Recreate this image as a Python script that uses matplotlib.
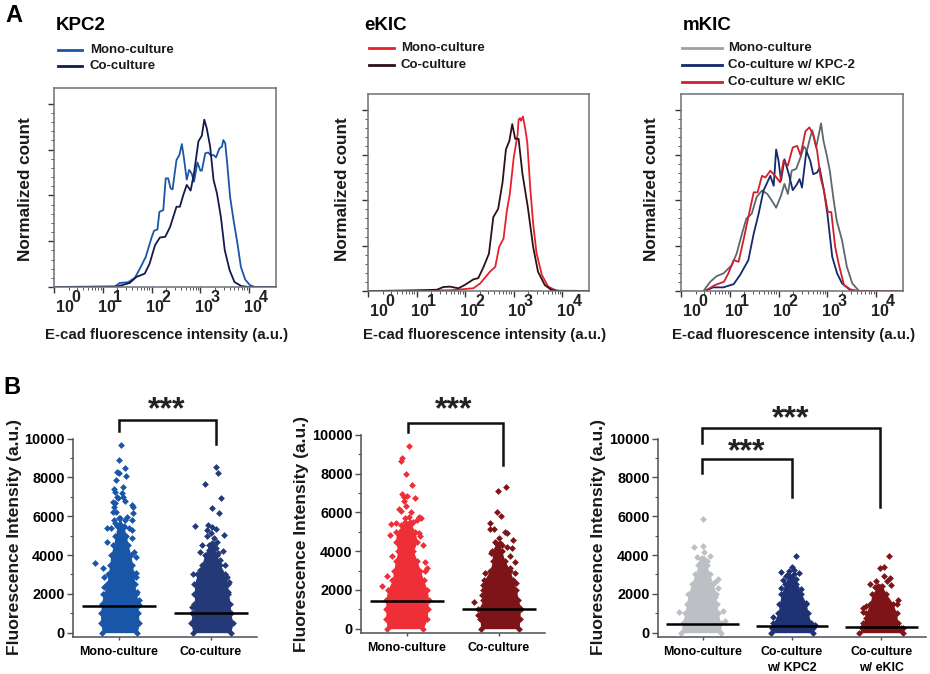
import matplotlib
matplotlib.use('Agg')
import matplotlib.pyplot as plt
from matplotlib.lines import Line2D
from matplotlib.ticker import FixedLocator, NullFormatter
import numpy as np

plt.rcParams['font.family'] = ['Liberation Sans', 'DejaVu Sans']
plt.rcParams['font.weight'] = 'bold'

W, H = 930, 674

# ---- panel A, histogram curves: log10 intensity and normalized count (0-100)
kpc_mono_x = [0, 0.73, 1.25, 1.35, 1.52, 1.66, 1.76, 1.88, 2.0, 2.05, 2.12, 2.16, 2.24, 2.29, 2.34, 2.39, 2.43,
              2.51, 2.57, 2.62, 2.66, 2.72, 2.77, 2.82, 2.87, 2.94, 3.0, 3.03, 3.1, 3.16, 3.21, 3.27, 3.32, 3.39,
              3.44, 3.47, 3.51, 3.55, 3.61, 3.68, 3.76, 3.83, 3.92, 4.02, 4.12, 4.55]
kpc_mono_y = [0, 0.2, 0.4, 2.2, 2.6, 5.1, 10, 16.4, 27, 30.7, 31.4, 41, 42, 59.3, 59.3, 53.8, 53.3, 69.3, 72.1,
              78, 71, 58.6, 63.9, 62, 57.5, 68, 63.5, 63.5, 73, 73.4, 72, 72, 70.7, 75.6, 76.5, 80.2, 78.4, 67.4,
              49, 36.5, 23.7, 11, 4, 0.9, 0, 0]
kpc_co_x = [0, 1.25, 1.38, 1.55, 1.69, 1.86, 1.96, 2.07, 2.17, 2.28, 2.38, 2.51, 2.58, 2.65, 2.72, 2.8, 2.87,
            2.96, 3.03, 3.08, 3.13, 3.2, 3.27, 3.34, 3.42, 3.5, 3.6, 3.7, 3.84, 4.0, 4.55]
kpc_co_y = [0, 0, 0.9, 2.2, 5.5, 7.3, 12.8, 22.8, 27, 27.4, 32.8, 43.8, 43.8, 50.2, 55.7, 52.6, 62.1, 79.5, 82.6,
            91.3, 86.7, 76.7, 58.4, 51.1, 38.3, 20.1, 9.1, 2.7, 0.5, 0, 0]

ekic_mono_x = [0, 1.69, 2.17, 2.31, 2.51, 2.62, 2.7, 2.79, 2.86, 2.92, 3.0, 3.08, 3.1, 3.13, 3.15, 3.19, 3.24,
               3.28, 3.34, 3.4, 3.47, 3.58, 3.71, 3.88, 4.55]
ekic_mono_y = [0, 0.4, 1.5, 4.2, 10.6, 13.3, 24.3, 28.9, 44.4, 53.5, 73.5, 86.3, 94.4, 95.3, 93.9, 96.2, 89, 81.7,
               57, 37.2, 20.8, 8.8, 2.4, 0.2, 0]
ekic_co_x = [0, 0.77, 1.08, 1.42, 1.55, 1.69, 1.86, 1.99, 2.17, 2.27, 2.38, 2.49, 2.58, 2.68, 2.77, 2.84, 2.91,
             2.97, 3.03, 3.1, 3.18, 3.29, 3.4, 3.5, 3.64, 3.78, 3.95, 4.55]
ekic_co_y = [0, 0.2, 0.4, 0.7, 2.2, 2.4, 1.5, 3.3, 6.4, 7.1, 13.3, 20.6, 40.7, 45.3, 59.9, 78.1, 82.7, 92, 83.9,
             83.9, 64.6, 46.3, 24.3, 10.6, 3.3, 0.5, 0, 0]

mkic_mono_x = [0.46, 0.6, 0.73, 0.87, 1.04, 1.14, 1.25, 1.34, 1.45, 1.55, 1.66, 1.77, 1.88, 1.95, 2.05, 2.12, 2.19,
               2.27, 2.36, 2.45, 2.52, 2.58, 2.63, 2.69, 2.77, 2.87, 2.92, 2.99, 3.05, 3.12, 3.19, 3.3, 3.4, 3.51,
               3.65, 4.55]
mkic_mono_y = [0, 5.1, 8.2, 9.7, 14.2, 20.6, 31.6, 39.9, 42.6, 51.8, 55.4, 53.5, 49, 45.9, 52.6, 59, 53.5, 66.4,
               67.3, 73.7, 79.7, 77.3, 82.8, 88.6, 79.1, 92.4, 82.8, 74.5, 66.3, 51.8, 39, 28, 13.3, 4.2, 0, 0]
mkic_co1_x = [0.49, 0.66, 0.87, 1.08, 1.21, 1.38, 1.49, 1.59, 1.69, 1.83, 1.9, 1.95, 2.0, 2.05, 2.12, 2.21, 2.29,
              2.38, 2.43, 2.48, 2.57, 2.65, 2.71, 2.79, 2.84, 2.93, 3.0, 3.1, 3.2, 3.3, 3.47, 3.62, 4.55]
mkic_co1_y = [0, 2, 2, 3.8, 8.8, 17, 31.6, 42.5, 55.3, 63.5, 58, 78, 71.7, 60.8, 72.6, 64.4, 55.6, 59, 61.7, 57,
              77.2, 71.7, 64.4, 65.3, 68, 55.3, 42.5, 18.8, 9.7, 4.2, 0.5, 0, 0]
mkic_co2_x = [0.49, 0.7, 0.88, 0.97, 1.08, 1.18, 1.28, 1.38, 1.49, 1.57, 1.66, 1.73, 1.83, 1.93, 2.03, 2.1, 2.19,
              2.29, 2.38, 2.45, 2.55, 2.63, 2.71, 2.79, 2.86, 2.93, 3.01, 3.08, 3.16, 3.23, 3.34, 3.47, 3.62, 4.55]
mkic_co2_y = [0, 3.3, 5.1, 9.7, 17, 16.1, 28, 40.7, 54.4, 54.4, 63.5, 62.6, 66.3, 63.5, 59.9, 71.8, 69.1, 79.1,
              80, 74.8, 88, 90.2, 86.4, 77.3, 62.6, 55.4, 43.5, 43.5, 24.3, 15.2, 3.3, 0.9, 0, 0]

# ---- panel B, swarm outlines: value, left and right half width in category units
b1_mono_levels = [0, 500, 1000, 1500, 2000, 2500, 3000, 3500, 4000, 4500, 5000, 5500, 5900]
b1_mono_left = [-.18, -.2, -.2, -.19, -.17, -.13, -.12, -.1, -.09, -.06, -.04, -.02, 0]
b1_mono_right = [.2, .22, .21, .21, .19, .17, .165, .145, .13, .1, .08, .05, .01]
b1_co_levels = [0, 500, 1000, 1500, 2000, 2500, 3000, 3500, 4000, 4500]
b1_co_left = [-.195, -.22, -.205, -.18, -.18, -.18, -.15, -.1, -.07, -.025]
b1_co_right = [.215, .24, .215, .21, .19, .18, .155, .1, .065, .03]

b2_mono_levels = [0, 500, 1000, 1500, 2000, 2500, 3000, 3500, 4000, 4500, 5000, 5500]
b2_mono_left = [-.215, -.23, -.23, -.23, -.21, -.16, -.145, -.125, -.1, -.125, -.115, -.02]
b2_mono_right = [.175, .22, .225, .235, .22, .18, .145, .11, .07, .11, .09, .03]
b2_co_levels = [0, 500, 1000, 1500, 2000, 2500, 3000, 3500, 4000, 4400]
b2_co_left = [-.2, -.205, -.225, -.17, -.17, -.16, -.1, -.07, -.08, -.03]
b2_co_right = [.22, .225, .235, .21, .19, .155, .12, .065, .03, .01]

b3_mono_levels = [0, 500, 1000, 1500, 2000, 2500, 3000, 3500, 3800]
b3_mono_left = [-.245, -.225, -.2, -.18, -.16, -.125, -.085, -.05, -.02]
b3_mono_right = [.21, .2, .175, .155, .15, .12, .08, .045, .02]
b3_kpc_levels = [0, 250, 500, 1000, 1500, 2000, 2500, 3000]
b3_kpc_left = [-.23, -.22, -.21, -.155, -.14, -.12, -.08, -.04]
b3_kpc_right = [.235, .24, .215, .18, .16, .105, .05, .02]
b3_ekic_levels = [0, 250, 500, 1000, 1500, 2000, 2400]
b3_ekic_left = [-.25, -.22, -.2, -.17, -.13, -.1, -.04]
b3_ekic_right = [.24, .22, .185, .17, .13, .055, .01]

# ---- panel B, single points outside the swarm body: offset from category, value
b1_mono_dx = [.02, 0, .06, -.02, 0, .08, -.03, .04, -.05, -.04, .03, -.02, -.06, -.04, .06, .14, .15, -.01, .04,
              -.05, -.07, -.03, .15, .14, .09, .07, -.05, -.13, -.09, .11, .14, .14, -.13, .16, .19, -.26, -.17,
              -.16, .18, .19, .2, .22, -.16, .22, -.04, 0, .05]
b1_mono_val = [9650, 8880, 8470, 8300, 8210, 8070, 7850, 7490, 7420, 7270, 7180, 7010, 6750, 6670, 6800, 6580,
               6460, 6920, 7010, 6490, 6240, 6240, 6180, 5810, 5980, 5810, 5810, 5380, 5380, 5380, 5290, 4860,
               4690, 4170, 3920, 3610, 3320, 2890, 3060, 2890, 2110, 1680, 2340, 1430, 5640, 5550, 5460]
b1_co_dx = [.05, .08, -.07, .11, .01, .09, -.17, -.03, .01, .05, -.04, 0, .14, -.04, .03, .065, -.1, .01, .05,
            .13, -.115, -.025, .08, .1, .155, -.115, -.195, .17, .2, .19, -.205]
b1_co_val = [8520, 8250, 7660, 6920, 6410, 6180, 5510, 5550, 5460, 5340, 5290, 5120, 5020, 5000, 4860, 4690, 4520,
             4600, 4350, 4210, 4170, 4260, 4090, 3750, 3490, 3230, 3020, 2890, 2600, 2110, 1340]
b2_mono_dx = [.02, -.05, -.07, -.01, .055, -.05, -.03, 0, .09, -.035, -.01, -.09, -.065, .045, .125, .155, .02,
              -.175, -.115, .11, .07, -.07, -.18, .125, .145, .175, -.16, .2, .215, .2, -.215, -.27, -.02, .035]
b2_mono_val = [9420, 8820, 8680, 7990, 7440, 6960, 6790, 6860, 6740, 6610, 6340, 6170, 6100, 6050, 5790, 5700, 5760,
               5380, 5480, 5620, 5530, 5360, 4850, 4930, 4760, 4330, 3730, 3440, 3130, 2960, 2700, 2220, 5700, 5360]
b2_co_dx = [.075, -.01, -.02, .025, -.1, .065, .085, -.1, -.055, 0, .15, -.04, .03, .085, .14, -.01, -.09, .12,
            .175, .12, .175, -.15, -.17, .19, -.19, -.275, -.225, .21]
b2_co_val = [7320, 7110, 6010, 5820, 5480, 4980, 4930, 5150, 5150, 4670, 4570, 4500, 4330, 4240, 4160, 4070, 3900,
             3730, 3420, 3130, 2870, 2870, 2270, 2350, 1750, 1390, 720, 1150]
b3_mono_dx = [0, 0, -.1, .01, .08, -.06, -.01, .045, -.03, .175, .14, .175, -.26, .23, .25, .14]
b3_mono_val = [5860, 4470, 4400, 4140, 3970, 3880, 3830, 3710, 3610, 2770, 2630, 2280, 1050, 1130, 620, 1860]
b3_kpc_dx = [.05, -.12, 0, -.03, .02, .08, .05, -.065, -.1, -.025, -.12, .05, .105, .01, .16, -.21, .255, .215]
b3_kpc_val = [3970, 3130, 3370, 3200, 3230, 3060, 2750, 2920, 2710, 2680, 2280, 2370, 2230, 2540, 1510, 820, 400, 310]
b3_ekic_dx = [.085, .03, -.01, .025, .095, .065, -.055, -.13, .105, -.02, -.075, -.17, -.2, -.205, .17, -.17,
              -.22, .24, .185]
b3_ekic_val = [3950, 3400, 3320, 2920, 2830, 2680, 2680, 2490, 2440, 2370, 2370, 1370, 1250, 1080, 1460, 740, 310,
               220, 1680]

# medians
b1_medians = [1390, 1030]
b2_medians = [1426, 1013]
b3_medians = [447, 344, 310]

exponents = ['0', '1', '2', '3', '4']
y_ticks_b = [0, 2000, 4000, 6000, 8000, 10000]

BLUE = '#1a56a8'
NAVY = '#141a4e'
RED = '#e8202c'
DOT = 12


def px_axes(left, top, right, bottom):
    return fig.add_axes([left / W, 1 - bottom / H, (right - left) / W, (bottom - top) / H])


def fig_text(x, y, s, **kw):
    kw.setdefault('va', 'center')
    kw.setdefault('ha', 'left')
    fig.text(x / W, 1 - y / H, s, **kw)


def legend_row(x0, x1, xt, y, color, label):
    fig.add_artist(Line2D([x0 / W, x1 / W], [1 - y / H, 1 - y / H], color=color, lw=2))
    fig_text(xt - 1, y, label, fontsize=9.5, color='#1a1a1a')


def hist_panel(box, curves):
    ax = px_axes(*box)
    for xs, ys, color in curves:
        ax.plot(10 ** np.array(xs), ys, color=color, lw=1.3)
    ax.set_xscale('log')
    ax.set_xlim(1, 10 ** 4.55)
    ax.set_ylim(0, 108.6)
    ax.xaxis.set_major_locator(FixedLocator([1, 10, 100, 1000, 10000]))
    minor = [m * 10 ** k for k in range(4) for m in range(2, 10)]
    ax.xaxis.set_minor_locator(FixedLocator(minor))
    ax.xaxis.set_major_formatter(NullFormatter())
    ax.xaxis.set_minor_formatter(NullFormatter())
    ax.set_yticks([0, 25, 50, 75, 100])
    ax.set_yticks(np.arange(0, 105, 5), minor=True)
    ax.set_yticklabels([])
    ax.tick_params(axis='both', which='major', length=4, width=1, color='#333333')
    ax.tick_params(axis='both', which='minor', length=2, width=0.7, color='#555555')
    for s in ax.spines.values():
        s.set_color('#6a7278')
        s.set_linewidth(1.1)
    for i, e in enumerate(exponents):
        dx10 = 10.7 if i == 0 else 3.7
        dxe = 22.3 if i == 0 else 14.5
        ax.annotate('10', (10 ** i, 0), xycoords=('data', 'axes fraction'), xytext=(dx10, -21),
                    textcoords='offset pixels', ha='center', va='center', fontsize=11.5, color='#222222')
        ax.annotate(e, (10 ** i, 0), xycoords=('data', 'axes fraction'), xytext=(dxe, -10),
                    textcoords='offset pixels', ha='center', va='center', fontsize=11.5, color='#222222')
    return ax


def swarm(ax, pos, levels, left, right, dx, val, color):
    lv = np.array(levels)
    xl = pos + np.array(left)
    xr = pos + np.array(right)
    ax.fill_betweenx(lv, xl, xr, color=color, lw=0, zorder=2, clip_on=False)
    ax.scatter(xl, lv, marker='D', s=DOT, color=color, lw=0, zorder=2, clip_on=False)
    ax.scatter(xr, lv, marker='D', s=DOT, color=color, lw=0, zorder=2, clip_on=False)
    ax.scatter(pos + np.array(dx), val, marker='D', s=DOT, color=color, lw=0, zorder=3, clip_on=False)


def bracket(ax, x0, x1, top, end0, end1, star_x, star_y):
    ax.plot([x0, x0, x1, x1], [end0, top, top, end1], color='#111111', lw=1.8, clip_on=False,
            solid_joinstyle='miter', zorder=5)
    ax.text(star_x, star_y, '***', ha='center', va='center', fontsize=23, color='#222222', clip_on=False)


def swarm_axes(box, n, labels, medians):
    ax = px_axes(*box)
    ax.set_xlim(0.5, n + 0.5)
    ax.set_ylim(-222, 10000)
    ax.set_xticks(range(1, n + 1))
    ax.set_xticklabels(labels, fontsize=8.9, linespacing=1.4)
    ax.set_yticks(y_ticks_b)
    ax.set_yticks(range(1000, 10000, 2000), minor=True)
    ax.tick_params(axis='y', which='major', length=4, width=1, labelsize=10.4, pad=2, color='#4a5055')
    ax.tick_params(axis='y', which='minor', length=2.5, width=0.8, color='#4a5055')
    ax.tick_params(axis='x', length=2.5, width=1, pad=4, color='#4a5055')
    ax.spines['top'].set_visible(False)
    ax.spines['right'].set_visible(False)
    ax.spines['left'].set_color('#4a5055')
    ax.spines['bottom'].set_color('#4a5055')
    ax.spines['left'].set_linewidth(1.1)
    ax.spines['bottom'].set_linewidth(1.1)
    for i, m in enumerate(medians):
        ax.plot([i + 1 - 0.405, i + 1 + 0.405], [m, m], color='black', lw=1.8, zorder=6,
                solid_capstyle='butt')
    return ax


fig = plt.figure(figsize=(W / 100, H / 100), dpi=100)

# ---- Panel A
fig_text(5, 15, 'A', fontsize=17)
fig_text(3, 388, 'B', fontsize=17)

fig_text(55.7, 25, 'KPC2', fontsize=13.5)
legend_row(57.7, 82.3, 90.7, 49.7, BLUE, 'Mono-culture')
legend_row(57.7, 82.3, 90.7, 66.3, NAVY, 'Co-culture')
hist_panel((54, 88, 276, 287), [(kpc_mono_x, kpc_mono_y, BLUE), (kpc_co_x, kpc_co_y, NAVY)])

fig_text(364, 25, 'eKIC', fontsize=13.5)
legend_row(369, 394, 401.7, 48.3, RED, 'Mono-culture')
legend_row(369, 394, 401.7, 64.7, '#2c1216', 'Co-culture')
hist_panel((368, 94, 589, 291), [(ekic_mono_x, ekic_mono_y, RED), (ekic_co_x, ekic_co_y, '#2c1216')])

fig_text(682.3, 25, 'mKIC', fontsize=13.5)
legend_row(682.3, 721.7, 729, 48.3, '#9aa0a5', 'Mono-culture')
legend_row(682.3, 721.7, 729, 64.7, '#12296b', 'Co-culture w/ KPC-2')
legend_row(682.3, 721.7, 729, 81.7, '#d01f2a', 'Co-culture w/ eKIC')
hist_panel((681, 94, 903, 291), [(mkic_mono_x, mkic_mono_y, '#5e686c'), (mkic_co1_x, mkic_co1_y, '#12296b'),
                                 (mkic_co2_x, mkic_co2_y, '#d01f2a')])

for x, xc in zip([25, 342.7, 651.7], [167, 485, 794]):
    fig_text(x, 188.7, 'Normalized count', fontsize=12.3, rotation=90, ha='center', color='#1a1a1a')
    fig_text(xc, 335, 'E-cad fluorescence intensity (a.u.)', fontsize=10.8, ha='center', color='#1a1a1a')

# ---- Panel B
ax = swarm_axes((73, 438.7, 257, 637), 2, ['Mono-culture', 'Co-culture'], b1_medians)
swarm(ax, 1, b1_mono_levels, b1_mono_left, b1_mono_right, b1_mono_dx, b1_mono_val, BLUE)
swarm(ax, 2, b1_co_levels, b1_co_left, b1_co_right, b1_co_dx, b1_co_val, '#243a78')
bracket(ax, 1, 2.05, 10962, 10395, 9725, 1.52, 11480)

ax = swarm_axes((361, 435, 545, 633), 2, ['Mono-culture', 'Co-culture'], b2_medians)
swarm(ax, 1, b2_mono_levels, b2_mono_left, b2_mono_right, b2_mono_dx, b2_mono_val, '#ee2f38')
swarm(ax, 2, b2_co_levels, b2_co_left, b2_co_right, b2_co_dx, b2_co_val, '#7d1418')
bracket(ax, 1.01, 2.04, 10600, 10137, 8460, 1.51, 11280)

ax = swarm_axes((658, 438.7, 926, 637), 3, ['Mono-culture', 'Co-culture\nw/ KPC2', 'Co-culture\nw/ eKIC'], b3_medians)
swarm(ax, 1, b3_mono_levels, b3_mono_left, b3_mono_right, b3_mono_dx, b3_mono_val, '#bcc0c4')
swarm(ax, 2, b3_kpc_levels, b3_kpc_left, b3_kpc_right, b3_kpc_dx, b3_kpc_val, '#1f3273')
swarm(ax, 3, b3_ekic_levels, b3_ekic_left, b3_ekic_right, b3_ekic_dx, b3_ekic_val, '#7f1418')
bracket(ax, 0.99, 2.99, 10532, 9794, 6495, 1.98, 11000)
bracket(ax, 0.99, 2.0, 8952, 8247, 7010, 1.49, 9300)

for x, yc in zip([15, 301.7, 599], [537, 534, 537]):
    fig_text(x, yc, 'Fluorescence Intensity (a.u.)', fontsize=12.6, rotation=90, ha='center', color='#1a1a1a')

fig.savefig('out.png', dpi=100)
